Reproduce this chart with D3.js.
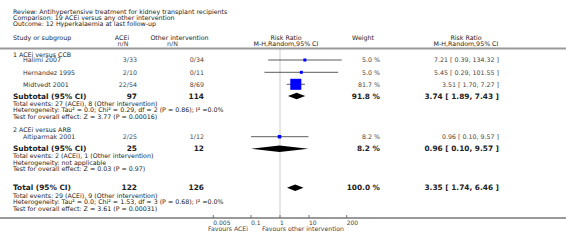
<!DOCTYPE html>
<html>
<head>
<meta charset="utf-8">
<script src="https://cdn.jsdelivr.net/npm/d3@7"></script>
<style>
  body { margin: 0; background: #fff; }
  svg { display: block; font-family: "DejaVu Sans", sans-serif; }
</style>
</head>
<body>
<svg id="forest" width="566" height="248"></svg>
<script>
// header text
const titleLines = [
  "Review:  Antihypertensive treatment for kidney transplant recipients",
  "Comparison:  19 ACEi versus any other intervention",
  "Outcome:  12 Hyperkalaemia at last follow-up"
];

// studies
const studyNames = ["Halimi 2007", "Hernandez 1995", "Midtvedt 2001", "Altiparmak 2001"];
const studyGroup = [0, 0, 0, 1];
const aceiNN = ["3/33", "2/10", "22/54", "2/25"];
const otherNN = ["0/34", "0/11", "8/69", "1/12"];
const studyRR = [7.21, 5.45, 3.51, 0.96];
const studyLo = [0.39, 0.29, 1.70, 0.10];
const studyHi = [134.32, 101.55, 7.27, 9.57];
const studyWeight = [5.0, 5.0, 81.7, 8.2];

// subgroups
const groupNames = ["1 ACEi versus CCB", "2 ACEi versus ARB"];
const groupAceiN = [97, 25];
const groupOtherN = [114, 12];
const groupRR = [3.74, 0.96];
const groupLo = [1.89, 0.10];
const groupHi = [7.43, 9.57];
const groupWeight = [91.8, 8.2];
const groupStats = [
  ["Total events: 27 (ACEi), 8 (Other intervention)",
   "Heterogeneity: Tau\u00b2 = 0.0; Chi\u00b2 = 0.29, df = 2 (P = 0.86); I\u00b2 =0.0%",
   "Test for overall effect: Z = 3.77 (P = 0.00016)"],
  ["Total events: 2 (ACEi), 1 (Other intervention)",
   "Heterogeneity: not applicable",
   "Test for overall effect: Z = 0.03 (P = 0.97)"]
];

// overall
const totalAceiN = 122;
const totalOtherN = 126;
const totalRR = 3.35, totalLo = 1.74, totalHi = 6.46, totalWeight = 100.0;
const totalStats = [
  "Total events: 29 (ACEi), 9 (Other intervention)",
  "Heterogeneity: Tau\u00b2 = 0.0; Chi\u00b2 = 1.53, df = 3 (P = 0.68); I\u00b2 =0.0%",
  "Test for overall effect: Z = 3.61 (P = 0.00031)"
];

const tickValues = [0.005, 0.1, 1, 10, 200];

const size = { width: 566, height: 248 };
const col = { study: 13, indent: 23, acei: 137, other: 204, weight: 380, ci: 499 };
const svg = d3.select("#forest");

const x = d3.scaleLog().domain([0.005, 200]).range([213.3, 346.7]);
const sq = d3.scaleSqrt().domain([0, 100]).range([0, 12.2]);

const fmt2 = d3.format(".2f");
const ciText = (r, l, h) => `${fmt2(r)} [ ${fmt2(l)}, ${fmt2(h)} ]`;
const wText = w => `${d3.format(".1f")(w)} %`;

function txt(xp, yp, s, opts = {}) {
  return svg.append("text")
    .attr("x", xp).attr("y", yp)
    .attr("dy", "0.35em")
    .attr("text-anchor", opts.anchor || "start")
    .attr("font-size", opts.size || 6.3)
    .attr("font-weight", opts.bold ? "bold" : "normal")
    .attr("fill", opts.fill || "#222")
    .text(s);
}

// title
titleLines.forEach((t, i) => txt(col.study, 11.7 + i * 5.8, t, { size: 6.3 }));

// column headers
txt(col.study, 38, "Study or subgroup");
txt(122, 38, "ACEi", { anchor: "middle" });
txt(123, 44, "n/N", { anchor: "middle", fill: "#444" });
txt(179.5, 38, "Other intervention", { anchor: "middle" });
txt(172.5, 44, "n/N", { anchor: "middle", fill: "#444" });
txt(286, 38, "Risk Ratio", { anchor: "middle" });
txt(286, 44, "M-H,Random,95% CI", { anchor: "middle" });
txt(363, 38, "Weight", { anchor: "middle" });
txt(466, 38, "Risk Ratio", { anchor: "middle" });
txt(466, 44, "M-H,Random,95% CI", { anchor: "middle" });

const yTop = 48.5, yAxis = 218;

// reference line at 1
svg.append("line")
  .attr("x1", x(1)).attr("x2", x(1))
  .attr("y1", yTop).attr("y2", yAxis)
  .attr("stroke", "#ddd").attr("stroke-width", 1.5);

svg.append("line")
  .attr("x1", 0).attr("x2", size.width)
  .attr("y1", yTop).attr("y2", yTop)
  .attr("stroke", "#9a9a9a").attr("stroke-width", 2);

// row positions for each subgroup block
const groupLayout = [
  { head: 54.3, studies: [60, 72.3, 84.3], sub: 96, stats: [103.6, 110.2, 116.8] },
  { head: 130, studies: [136.7], sub: 148.7, stats: [156.2, 162.6, 169] }
];

function diamond(r, l, h, yc) {
  const hh = 3.3;
  svg.append("path")
    .attr("d", `M${x(l)},${yc} L${x(r)},${yc - hh} L${x(h)},${yc} L${x(r)},${yc + hh} Z`)
    .attr("fill", "#000");
}

groupNames.forEach((g, gi) => {
  const lay = groupLayout[gi];
  txt(col.study, lay.head, g);
  const idx = studyNames.map((d, i) => i).filter(i => studyGroup[i] === gi);
  idx.forEach((i, k) => {
    const y = lay.studies[k];
    txt(col.indent, y, studyNames[i], { fill: "#333" });
    txt(col.acei, y, aceiNN[i], { anchor: "end", fill: "#444" });
    txt(col.other, y, otherNN[i], { anchor: "end", fill: "#444" });
    txt(col.weight, y, wText(studyWeight[i]), { anchor: "end", fill: "#444" });
    txt(col.ci, y, ciText(studyRR[i], studyLo[i], studyHi[i]), { anchor: "end", fill: "#444" });
    svg.append("line")
      .attr("x1", x(studyLo[i])).attr("x2", x(studyHi[i]))
      .attr("y1", y).attr("y2", y)
      .attr("stroke", "#333").attr("stroke-width", 0.8);
    const s = Math.max(3, sq(studyWeight[i]));
    svg.append("rect")
      .attr("x", x(studyRR[i]) - s / 2).attr("y", y - s / 2)
      .attr("width", s).attr("height", s)
      .attr("fill", "#0000ff");
  });
  txt(col.study, lay.sub, "Subtotal (95% CI)", { bold: true, size: 7.4 });
  txt(col.acei, lay.sub, groupAceiN[gi], { anchor: "end", bold: true, size: 7.4 });
  txt(col.other, lay.sub, groupOtherN[gi], { anchor: "end", bold: true, size: 7.4 });
  txt(col.weight, lay.sub, wText(groupWeight[gi]), { anchor: "end", bold: true, size: 7.4 });
  txt(col.ci, lay.sub, ciText(groupRR[gi], groupLo[gi], groupHi[gi]), { anchor: "end", bold: true, size: 7.4 });
  diamond(groupRR[gi], groupLo[gi], groupHi[gi], lay.sub);
  groupStats[gi].forEach((t, k) => txt(col.study, lay.stats[k], t));
});

// overall
const yTot = 187.8;
txt(col.study, yTot, "Total (95% CI)", { bold: true, size: 7.4 });
txt(col.acei, yTot, totalAceiN, { anchor: "end", bold: true, size: 7.4 });
txt(col.other, yTot, totalOtherN, { anchor: "end", bold: true, size: 7.4 });
txt(col.weight, yTot, wText(totalWeight), { anchor: "end", bold: true, size: 7.4 });
txt(col.ci, yTot, ciText(totalRR, totalLo, totalHi), { anchor: "end", bold: true, size: 7.4 });
diamond(totalRR, totalLo, totalHi, yTot);
totalStats.forEach((t, k) => txt(col.study, 195.3 + k * 6.5, t));

// axis
svg.append("line")
  .attr("x1", 0).attr("x2", size.width)
  .attr("y1", yAxis).attr("y2", yAxis)
  .attr("stroke", "#9a9a9a").attr("stroke-width", 2);

const ticks = svg.append("g");
tickValues.forEach(v => {
  ticks.append("line")
    .attr("x1", x(v)).attr("x2", x(v))
    .attr("y1", yAxis - 3).attr("y2", yAxis)
    .attr("stroke", "#555").attr("stroke-width", 0.8);
  ticks.append("text")
    .attr("x", x(v)).attr("y", yAxis + 4.5)
    .attr("dy", "0.35em")
    .attr("font-size", 6)
    .attr("fill", "#444")
    .text(d3.format("~g")(v));
});

txt(248, yAxis + 10.5, "Favours ACEi", { anchor: "end", size: 6.2, fill: "#444" });
txt(262, yAxis + 10.5, "Favours other intervention", { size: 6.2, fill: "#444" });
</script>
</body>
</html>
